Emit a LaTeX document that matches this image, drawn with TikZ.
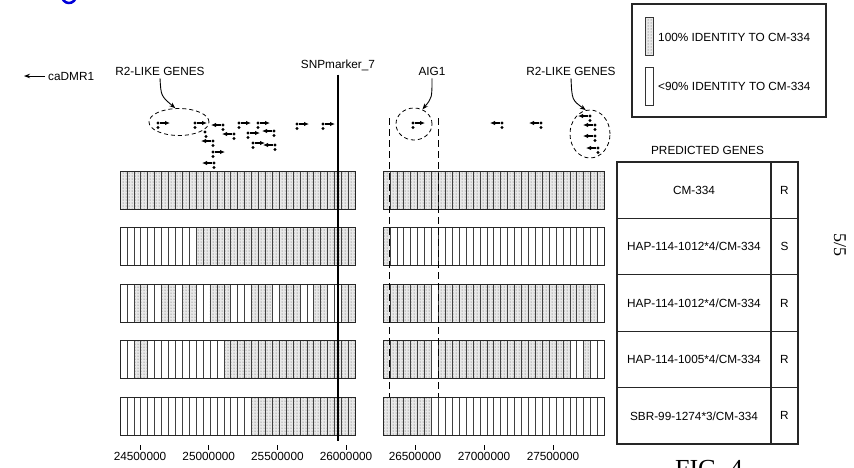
\documentclass[tikz,border=0pt]{standalone}
\usepackage{fontspec}
\setmainfont{Liberation Serif}
\setsansfont{Liberation Sans}
\usetikzlibrary{arrows.meta,positioning,patterns,shapes.geometric}

\begin{document}
\begin{tikzpicture}[x=1pt,y=-1pt,
  font=\sffamily\fontsize{11.8}{13}\selectfont,
  lab/.style={inner sep=0pt,anchor=base},
  grp/.style={draw,ellipse,dash pattern=on 4pt off 3pt,line width=0.8pt,inner sep=0pt},
  pt/.style={-{Stealth[length=6pt,width=4.5pt]},line width=0.9pt},
  stip/.style={fill=black!9,postaction={pattern=dots,pattern color=black!65}},
  stripe/.style={black!75,line width=0.6pt},
  barline/.style={draw=black!85,line width=1pt},
  cell/.style={draw=black!85,line width=1.1pt,minimum height=56.4pt,inner sep=0pt},
  swatch/.style={draw=black!80,line width=0.8pt,minimum width=8pt,minimum height=38pt,inner sep=0pt},
  genearr/.style={-{Latex[length=5pt,width=4.5pt]},line width=1.2pt},
  guide/.style={dash pattern=on 7pt off 4pt,line width=0.8pt}]
\useasboundingbox (0,0) rectangle (854,467);

% stray mark at the top edge
\draw[blue!85!black,line width=2.5pt] (69,-4) ++(200:7pt) arc[start angle=200,end angle=340,radius=7pt];

% haplotype bars, stippled ranges per row
\foreach \yt/\lr/\rr in {171.5/{0/33}/{0/31},
    227.9/{11/33}/{0/0},
    284.3/{2/3,6/7,9/10,13/15,19/21,23/25,28/29,32/33}/{0/6,8/30},
    340.7/{2/3,15/33}/{0/6,8/26,29/29},
    397.1/{19/33}/{0/6}}{
  \foreach \a/\b in \lr \fill[stip] ({120+6.92*\a},\yt) rectangle ({120+6.92*(\b+1)},\yt+38);
  \foreach \a/\b in \rr \fill[stip] ({383+6.92*\a},\yt) rectangle ({383+6.92*(\b+1)},\yt+38);
  \foreach \k in {1,...,33} \draw[stripe] ({120+6.92*\k},\yt) -- ++(0,38);
  \foreach \k in {1,...,31} \draw[stripe] ({383+6.92*\k},\yt) -- ++(0,38);
  \draw[barline] (120,\yt) rectangle (355.3,\yt+38);
  \draw[barline] (383,\yt) rectangle (604.4,\yt+38);
}

% axis
\foreach \v/\x in {24500000/140,25000000/208.7,25500000/277.4,26000000/346,26500000/415,27000000/484,27500000/553}{
  \node[lab] (t\v) at (\x,460) {\v};
  \draw[line width=0.8pt] (t\v.north) ++(0,-2) -- ++(0,-5);
}

% labels and groups
\node[lab,anchor=base west] (cadmr) at (48,80) {caDMR1};
\coordinate (cadmrtip) at ([xshift=-24pt]cadmr.west);
\draw[pt] ([xshift=-3pt]cadmr.west) -- (cadmrtip);

\node[lab] (lr2) at (160,75) {R2-LIKE GENES};
\node[lab] (snp) at (338,68) {SNPmarker\_7};
\node[lab] (aig) at (432,75) {AIG1};
\node[lab] (rr2) at (571,75) {R2-LIKE GENES};

\node[grp,minimum width=60pt,minimum height=27pt] (lgrp) at (179,122) {};
\node[grp,minimum width=36pt,minimum height=32pt] (agrp) at (414,124) {};
\node[grp,minimum width=40pt,minimum height=48pt] (rgrp) at (590,134) {};

\draw[pt] ([yshift=-3pt]lr2.south) .. controls (161,96) .. (lgrp.105);
\draw[pt] ([yshift=-3pt]aig.south) .. controls (432,98) .. (agrp.60);
\draw[pt] ([yshift=-3pt]rr2.south) .. controls (572,100) .. (rgrp.100);

\coordinate (snpend) at (338,441);
\draw[line width=1.5pt] ([yshift=-4pt]snp.south) -- (snpend);

\coordinate (ga) at (389.5,118);
\coordinate (ga2) at (389.5,397);
\coordinate (gb) at (438,118);
\coordinate (gb2) at (438,397);
\draw[guide] (ga) -- (ga2);
\draw[guide] (gb) -- (gb2);

% predicted genes (tail x / y / direction)
\foreach \x/\y/\d in {158/123/1,195/123/1,239/123/1,258/123/1,248/133/1,253/143/1,213/152/1,297/124/1,323/124/1,413/123/1,
    223/125/-1,234/134/-1,213/141/-1,214/163/-1,274/131/-1,275/145/-1,502/123/-1,541/123/-1,590/116/-1,595/125/-1,595/136/-1,598/148/-1}{
  \fill (\x,\y) circle (1.6pt);
  \fill (\x,\y+4.5) circle (1.6pt);
  \draw[genearr] ({\x+2*\d},\y) -- ({\x+12*\d},\y);
}
\fill (205,132) circle (1.6pt) (206,136.5) circle (1.6pt);

% legend
\node[draw=black!85,line width=1.1pt,minimum width=194pt,minimum height=113pt,inner sep=0pt] (legend) at (729,60.5) {};
\node[swatch,stip] (sw1) at (649,36) {};
\node[swatch] (sw2) at (649,86) {};
\node[lab,anchor=base west] (k1) at (658,41) {100\% IDENTITY TO CM-334};
\node[lab,anchor=base west] (k2) at (658,90.5) {<90\% IDENTITY TO CM-334};

% table
\node[lab] (pg) at (707.5,154) {PREDICTED GENES};
\foreach \n/\g/\s in {1/{CM-334}/R,2/{HAP-114-1012*4/CM-334}/S,3/{HAP-114-1012*4/CM-334}/R,4/{HAP-114-1005*4/CM-334}/R,5/{SBR-99-1274*3/CM-334}/R}{
  \node[cell,minimum width=154pt] (gene\n) at (694,{190.2+56.4*(\n-1)}) {\g};
  \node[cell,minimum width=27pt] (res\n) at (784.5,{190.2+56.4*(\n-1)}) {\s};
}

\node[font=\rmfamily\fontsize{18}{18}\selectfont,rotate=-90] (sheet) at (840,245) {5/5};
\node[font=\rmfamily\fontsize{26}{26}\selectfont,anchor=base] (fig) at (709,477) {FIG. 4};
\end{tikzpicture}
\end{document}
